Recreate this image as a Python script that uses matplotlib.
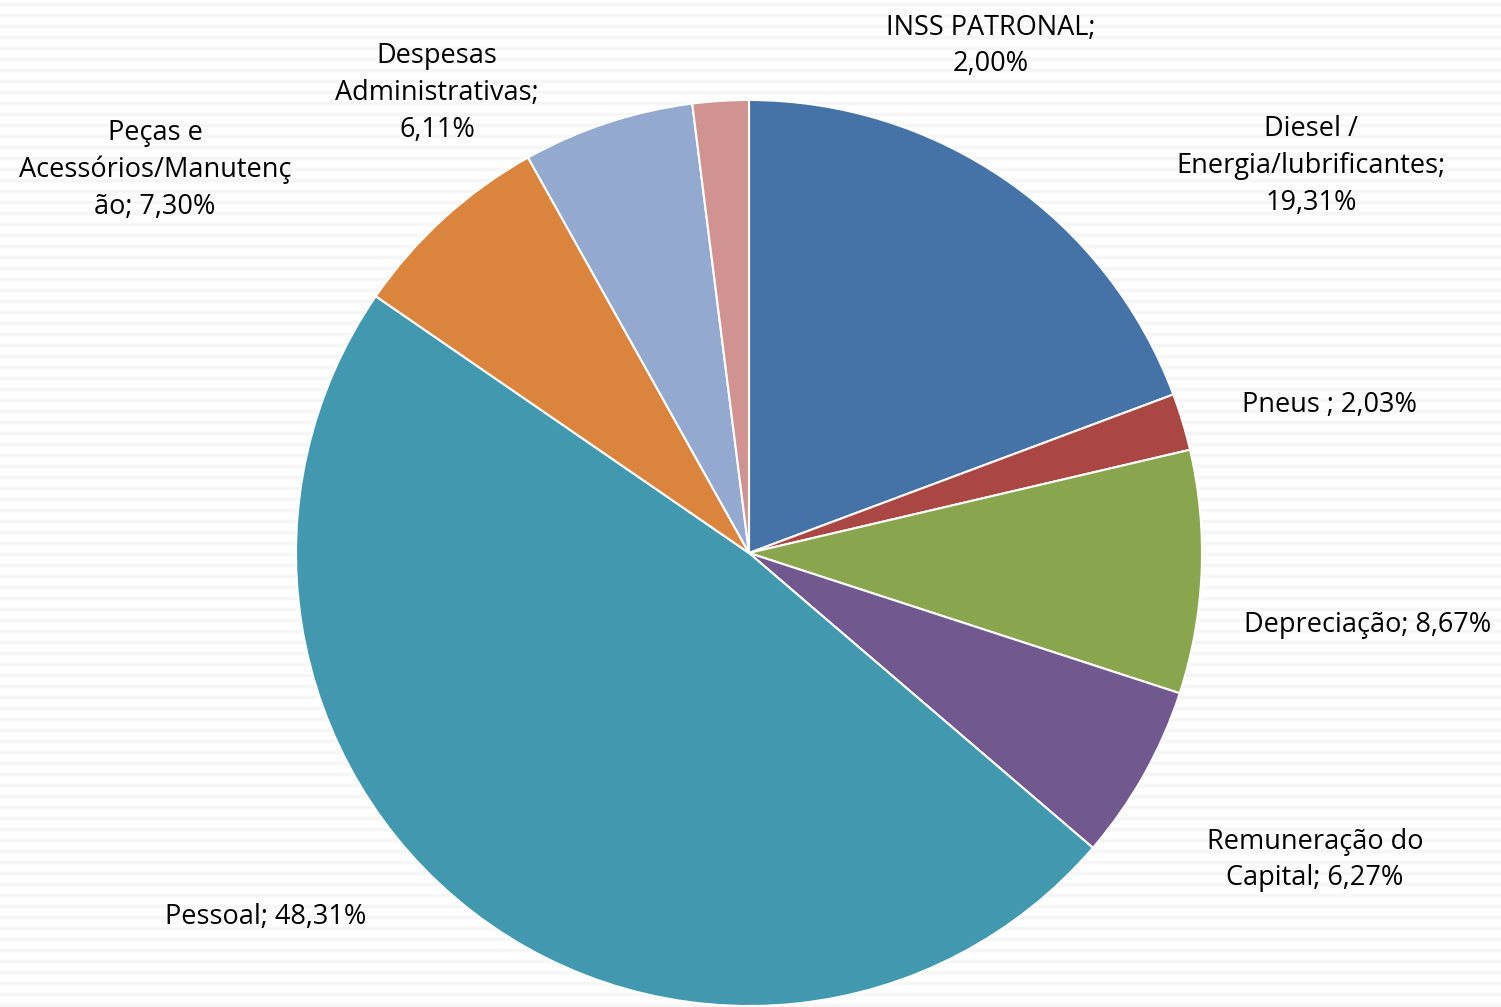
import matplotlib
matplotlib.use("Agg")
import matplotlib.pyplot as plt
from matplotlib.lines import Line2D

labels = ["Diesel /\nEnergia/lubrificantes;\n19,31%", "Pneus ; 2,03%", "Depreciação; 8,67%",
          "Remuneração do\nCapital; 6,27%", "Pessoal; 48,31%",
          "Peças e\nAcessórios/Manutenç\não; 7,30%", "Despesas\nAdministrativas;\n6,11%",
          "INSS PATRONAL;\n2,00%"]
values = [19.31, 2.03, 8.67, 6.27, 48.31, 7.30, 6.11, 2.00]
colors = ["#4572A7", "#AA4643", "#89A54E", "#71588F", "#4198AF", "#DB843D", "#93A9CF", "#D19392"]

# label centres in pixels (x from left, y from top)
label_pos = [(1311, 166), (1330, 405), (1368, 625), (1315, 860), (266, 917),
             (155, 170), (437, 93), (991, 46)]

W, H = 1501, 1007
fig = plt.figure(figsize=(W / 100, H / 100), dpi=100)
fig.patch.set_facecolor("white")

# faint striped background
for y in range(4, H, 11):
    fig.add_artist(Line2D([0, 1], [1 - y / H, 1 - y / H], color="#f6f6f6", lw=2.5, zorder=0))

ax = fig.add_axes([0, 0, 1, 1])
ax.pie(values, colors=colors, startangle=90, counterclock=False,
       center=(749, H - 553), radius=453,
       wedgeprops=dict(edgecolor="white", linewidth=1.5))
ax.set_xlim(0, W)
ax.set_ylim(0, H)
ax.set_aspect("equal")
ax.axis("off")
ax.patch.set_alpha(0)

for lab, (x, y) in zip(labels, label_pos):
    ax.text(x, H - y, lab, ha="center", va="center", fontsize=19.5,
            family="Open Sans", color="black", linespacing=1.42)

fig.savefig("out.png", dpi=100, facecolor="white")
